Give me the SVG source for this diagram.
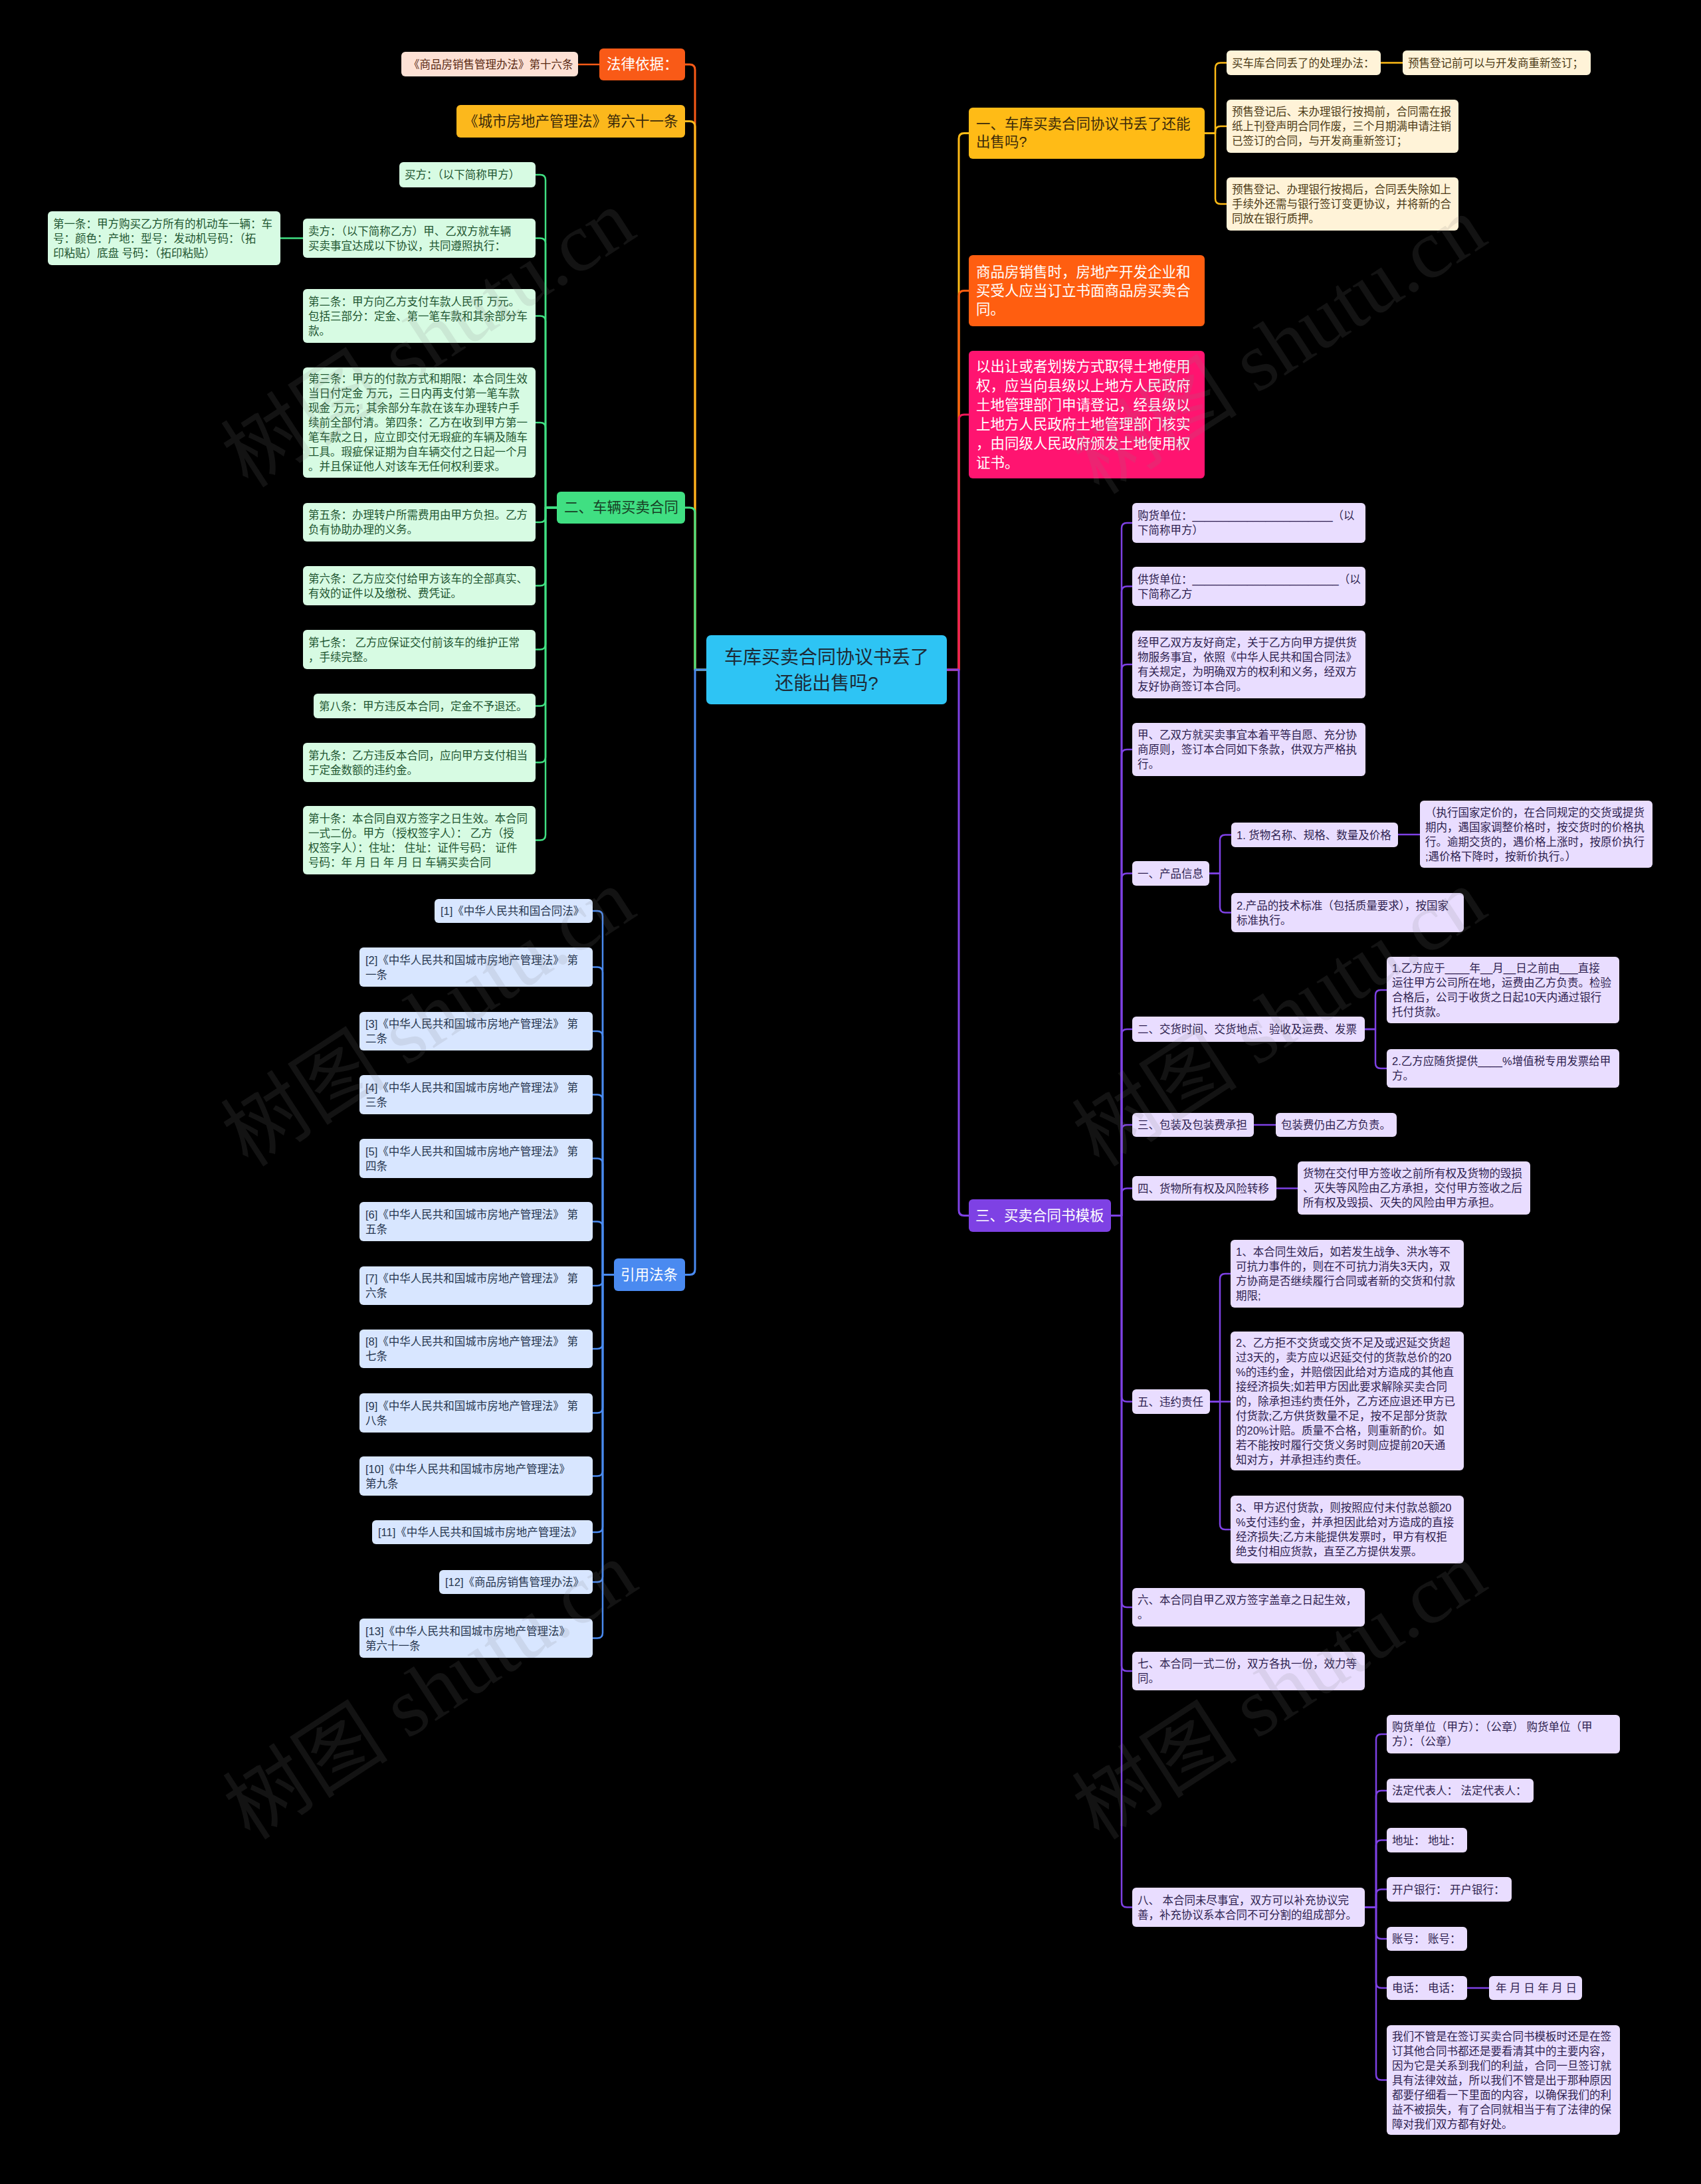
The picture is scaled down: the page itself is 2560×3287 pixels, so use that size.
<svg xmlns="http://www.w3.org/2000/svg" width="2560" height="3287" viewBox="0 0 2560 3287">
<style>
text{font-family:"Liberation Sans","Noto Sans CJK SC",sans-serif;dominant-baseline:central}
.f0{font-size:28px;fill:#1d2a36;text-anchor:middle}
.f1{font-size:21.5px}
.f2{font-size:16.5px}
.w{fill:#ffffff}
.dk{fill:#3b2a0a}
.lg{fill:#5a2a14}
.gt{fill:#1f5631}
.bt{fill:#27364f}
.ct{fill:#4b3a16}
.pt{fill:#2e1f4f}
.cn path{fill:none;stroke-linecap:round;stroke-linejoin:round}
.m{stroke-width:3}
.s{stroke-width:2.5}
.gr{fill:#D7FBE3}
.bl{fill:#D8E6FF}
.cr{fill:#FFF3D8}
.pu{fill:#E9DDFF}
.wm{font-family:"Liberation Serif","Noto Sans CJK SC",serif;font-size:125px;fill:#808080;fill-opacity:0.15;text-anchor:middle}
</style>
<rect x="0" y="0" width="2560" height="3287" fill="#000000"/>

<g id="connectors" class="cn">
<path class="m" stroke="#F95A17" d="M1063,1008 H1046 V105 Q1046,97 1038,97 H1031"/>
<path class="m" stroke="#FCB81C" d="M1063,1008 H1046 V190.5 Q1046,182.5 1038,182.5 H1031"/>
<path class="m" stroke="#40DF82" d="M1063,1008 H1046 V772 Q1046,764 1038,764 H1031"/>
<path class="m" stroke="#4A8AF0" d="M1063,1008 H1046 V1910.5 Q1046,1918.5 1038,1918.5 H1031"/>
<path class="m" stroke="#FFBB16" d="M1425,1008 H1443 V208.5 Q1443,200.5 1451,200.5 H1458"/>
<path class="m" stroke="#FF5E10" d="M1425,1008 H1443 V445.5 Q1443,437.5 1451,437.5 H1458"/>
<path class="m" stroke="#F0195A" d="M1425,1008 H1443 V632 Q1443,624 1451,624 H1458"/>
<path class="m" stroke="#7E41E4" d="M1425,1008 H1443 V1821.5 Q1443,1829.5 1451,1829.5 H1458"/>
<path class="s" stroke="#F95A17" d="M902,97 H870"/>
<g stroke="#40DF82">
<path class="s" d="M838,764 H821 V271 Q821,263 813,263 H806"/>
<path class="s" d="M838,764 H821 V366.5 Q821,358.5 813,358.5 H806"/>
<path class="s" d="M838,764 H821 V483.5 Q821,475.5 813,475.5 H806"/>
<path class="s" d="M838,764 H821 V644 Q821,636 813,636 H806"/>
<path class="s" d="M838,764 H821 V778 Q821,786 813,786 H806"/>
<path class="s" d="M838,764 H821 V873.5 Q821,881.5 813,881.5 H806"/>
<path class="s" d="M838,764 H821 V969.5 Q821,977.5 813,977.5 H806"/>
<path class="s" d="M838,764 H821 V1054.5 Q821,1062.5 813,1062.5 H806"/>
<path class="s" d="M838,764 H821 V1139.5 Q821,1147.5 813,1147.5 H806"/>
<path class="s" d="M838,764 H821 V1256.5 Q821,1264.5 813,1264.5 H806"/>
<path class="s" d="M456,358.5 H422"/>
</g>
<g stroke="#4A8AF0">
<path class="s" d="M924,1918.5 H907 V1379 Q907,1371 899,1371 H892"/>
<path class="s" d="M924,1918.5 H907 V1463.5 Q907,1455.5 899,1455.5 H892"/>
<path class="s" d="M924,1918.5 H907 V1560 Q907,1552 899,1552 H892"/>
<path class="s" d="M924,1918.5 H907 V1655.5 Q907,1647.5 899,1647.5 H892"/>
<path class="s" d="M924,1918.5 H907 V1751.5 Q907,1743.5 899,1743.5 H892"/>
<path class="s" d="M924,1918.5 H907 V1846.5 Q907,1838.5 899,1838.5 H892"/>
<path class="s" d="M924,1918.5 H907 V1927 Q907,1935 899,1935 H892"/>
<path class="s" d="M924,1918.5 H907 V2022 Q907,2030 899,2030 H892"/>
<path class="s" d="M924,1918.5 H907 V2118.5 Q907,2126.5 899,2126.5 H892"/>
<path class="s" d="M924,1918.5 H907 V2213.5 Q907,2221.5 899,2221.5 H892"/>
<path class="s" d="M924,1918.5 H907 V2298 Q907,2306 899,2306 H892"/>
<path class="s" d="M924,1918.5 H907 V2373 Q907,2381 899,2381 H892"/>
<path class="s" d="M924,1918.5 H907 V2457.5 Q907,2465.5 899,2465.5 H892"/>
</g>
<g stroke="#FFBB16">
<path class="s" d="M1813,200.5 H1829 V102.5 Q1829,94.5 1837,94.5 H1846"/>
<path class="s" d="M1813,200.5 H1829 V198 Q1829,190 1837,190 H1846"/>
<path class="s" d="M1813,200.5 H1829 V299 Q1829,307 1837,307 H1846"/>
<path class="s" d="M2078,94.5 H2111"/>
</g>
<g stroke="#7E41E4">
<path class="s" d="M1672,1829.5 H1688 V795 Q1688,787 1696,787 H1704"/>
<path class="s" d="M1672,1829.5 H1688 V890.5 Q1688,882.5 1696,882.5 H1704"/>
<path class="s" d="M1672,1829.5 H1688 V1008 Q1688,1000 1696,1000 H1704"/>
<path class="s" d="M1672,1829.5 H1688 V1136 Q1688,1128 1696,1128 H1704"/>
<path class="s" d="M1672,1829.5 H1688 V1322.5 Q1688,1314.5 1696,1314.5 H1704"/>
<path class="s" d="M1672,1829.5 H1688 V1557 Q1688,1549 1696,1549 H1704"/>
<path class="s" d="M1672,1829.5 H1688 V1701 Q1688,1693 1696,1693 H1704"/>
<path class="s" d="M1672,1829.5 H1688 V1796.5 Q1688,1788.5 1696,1788.5 H1704"/>
<path class="s" d="M1672,1829.5 H1688 V2101.5 Q1688,2109.5 1696,2109.5 H1704"/>
<path class="s" d="M1672,1829.5 H1688 V2411 Q1688,2419 1696,2419 H1704"/>
<path class="s" d="M1672,1829.5 H1688 V2507 Q1688,2515 1696,2515 H1704"/>
<path class="s" d="M1672,1829.5 H1688 V2862.5 Q1688,2870.5 1696,2870.5 H1704"/>
<path class="s" d="M1820,1314.5 H1836 V1264.5 Q1836,1256.5 1844,1256.5 H1853"/>
<path class="s" d="M1820,1314.5 H1836 V1365.5 Q1836,1373.5 1844,1373.5 H1853"/>
<path class="s" d="M2104,1256 H2137"/>
<path class="s" d="M2054,1549 H2070 V1498 Q2070,1490 2078,1490 H2087"/>
<path class="s" d="M2054,1549 H2070 V1600 Q2070,1608 2078,1608 H2087"/>
<path class="s" d="M1887,1693 H1920"/>
<path class="s" d="M1921,1788.5 H1953"/>
<path class="s" d="M1821,2109.5 H1836 V1925 Q1836,1917 1844,1917 H1852"/>
<path class="s" d="M1821,2109.5 H1852"/>
<path class="s" d="M1821,2109.5 H1836 V2294 Q1836,2302 1844,2302 H1852"/>
<path class="s" d="M2054,2870.5 H2071 V2618 Q2071,2610 2079,2610 H2087"/>
<path class="s" d="M2054,2870.5 H2071 V2703 Q2071,2695 2079,2695 H2087"/>
<path class="s" d="M2054,2870.5 H2071 V2777.5 Q2071,2769.5 2079,2769.5 H2087"/>
<path class="s" d="M2054,2870.5 H2071 V2851.5 Q2071,2843.5 2079,2843.5 H2087"/>
<path class="s" d="M2054,2870.5 H2071 V2910 Q2071,2918 2079,2918 H2087"/>
<path class="s" d="M2054,2870.5 H2071 V2984 Q2071,2992 2079,2992 H2087"/>
<path class="s" d="M2054,2870.5 H2071 V3122.5 Q2071,3130.5 2079,3130.5 H2087"/>
<path class="s" d="M2208,2992 H2241"/>
</g>
</g>

<g id="root">
<rect x="1063" y="956" width="362" height="104" rx="7" fill="#2EC4F4"/>
<text class="f0"><tspan x="1244" y="988.5">车库买卖合同协议书丢了</tspan><tspan x="1244" y="1027.5">还能出售吗?</tspan></text>
</g>

<g id="n-law">
<rect x="902" y="73" width="129" height="48" rx="6" fill="#F95A17"/>
<text class="f1 w" x="913" y="97">法律依据：</text>
</g>
<g id="n-law-1">
<rect x="604" y="78" width="266" height="37" rx="6" fill="#FDE1D5"/>
<text class="f2 lg" x="615" y="96.5">《商品房销售管理办法》第十六条</text>
</g>
<g id="n-city">
<rect x="687" y="158" width="344" height="49" rx="6" fill="#FCB81C"/>
<text class="f1 dk" x="698" y="182.5">《城市房地产管理法》第六十一条</text>
</g>

<g id="n-car">
<rect x="838" y="740" width="193" height="48" rx="6" fill="#40DF82"/>
<text class="f1" fill="#173f25" x="849" y="764">二、车辆买卖合同</text>
</g>
<g id="g0"><rect class="gr" x="601" y="244" width="205" height="38" rx="6"/>
<text class="f2 gt" x="609" y="263">买方：（以下简称甲方）</text></g>
<g id="g1"><rect class="gr" x="456" y="329" width="350" height="59" rx="6"/>
<text class="f2 gt"><tspan x="464" y="347.5">卖方：（以下简称乙方）甲、乙双方就车辆</tspan><tspan x="464" y="369.5">买卖事宜达成以下协议，共同遵照执行：</tspan></text></g>
<g id="g1a"><rect class="gr" x="72" y="318" width="350" height="81" rx="6"/>
<text class="f2 gt"><tspan x="80" y="336.5">第一条：甲方购买乙方所有的机动车一辆：车</tspan><tspan x="80" y="358.5">号：颜色：产地：型号：发动机号码：（拓</tspan><tspan x="80" y="380.5">印粘贴）底盘 号码：（拓印粘贴）</tspan></text></g>
<g id="g2"><rect class="gr" x="456" y="435" width="350" height="81" rx="6"/>
<text class="f2 gt"><tspan x="464" y="453.5">第二条：甲方向乙方支付车款人民币 万元。</tspan><tspan x="464" y="475.5">包括三部分：定金、第一笔车款和其余部分车</tspan><tspan x="464" y="497.5">款。</tspan></text></g>
<g id="g3"><rect class="gr" x="456" y="553" width="350" height="166" rx="6"/>
<text class="f2 gt"><tspan x="464" y="570">第三条：甲方的付款方式和期限：本合同生效</tspan><tspan x="464" y="592">当日付定金 万元，三日内再支付第一笔车款</tspan><tspan x="464" y="614">现金 万元；其余部分车款在该车办理转户手</tspan><tspan x="464" y="636">续前全部付清。第四条：乙方在收到甲方第一</tspan><tspan x="464" y="658">笔车款之日，应立即交付无瑕疵的车辆及随车</tspan><tspan x="464" y="680">工具。瑕疵保证期为自车辆交付之日起一个月</tspan><tspan x="464" y="702">。并且保证他人对该车无任何权利要求。</tspan></text></g>
<g id="g5"><rect class="gr" x="456" y="757" width="350" height="58" rx="6"/>
<text class="f2 gt"><tspan x="464" y="775">第五条：办理转户所需费用由甲方负担。乙方</tspan><tspan x="464" y="797">负有协助办理的义务。</tspan></text></g>
<g id="g6"><rect class="gr" x="456" y="852" width="350" height="59" rx="6"/>
<text class="f2 gt"><tspan x="464" y="870.5">第六条：乙方应交付给甲方该车的全部真实、</tspan><tspan x="464" y="892.5">有效的证件以及缴税、费凭证。</tspan></text></g>
<g id="g7"><rect class="gr" x="456" y="948" width="350" height="59" rx="6"/>
<text class="f2 gt"><tspan x="464" y="966.5">第七条： 乙方应保证交付前该车的维护正常</tspan><tspan x="464" y="988.5">，手续完整。</tspan></text></g>
<g id="g8"><rect class="gr" x="472" y="1044" width="334" height="37" rx="6"/>
<text class="f2 gt" x="480" y="1062.5">第八条：甲方违反本合同，定金不予退还。</text></g>
<g id="g9"><rect class="gr" x="456" y="1118" width="350" height="59" rx="6"/>
<text class="f2 gt"><tspan x="464" y="1136.5">第九条：乙方违反本合同，应向甲方支付相当</tspan><tspan x="464" y="1158.5">于定金数额的违约金。</tspan></text></g>
<g id="g10"><rect class="gr" x="456" y="1213" width="350" height="103" rx="6"/>
<text class="f2 gt"><tspan x="464" y="1231.5">第十条：本合同自双方签字之日生效。本合同</tspan><tspan x="464" y="1253.5">一式二份。甲方（授权签字人）： 乙方（授</tspan><tspan x="464" y="1275.5">权签字人）：住址： 住址：证件号码： 证件</tspan><tspan x="464" y="1297.5">号码：年 月 日 年 月 日 车辆买卖合同</tspan></text></g>

<g id="n-cite">
<rect x="924" y="1894" width="107" height="49" rx="6" fill="#4A8AF0"/>
<text class="f1 w" x="934" y="1918.5">引用法条</text>
</g>
<g id="b1"><rect class="bl" x="654" y="1353" width="238" height="36" rx="6"/>
<text class="f2 bt" x="663" y="1371">[1]《中华人民共和国合同法》</text></g>
<g id="b2"><rect class="bl" x="541" y="1426" width="351" height="59" rx="6"/>
<text class="f2 bt"><tspan x="550" y="1444.5">[2]《中华人民共和国城市房地产管理法》 第</tspan><tspan x="550" y="1466.5">一条</tspan></text></g>
<g id="b3"><rect class="bl" x="541" y="1523" width="351" height="58" rx="6"/>
<text class="f2 bt"><tspan x="550" y="1541">[3]《中华人民共和国城市房地产管理法》 第</tspan><tspan x="550" y="1563">二条</tspan></text></g>
<g id="b4"><rect class="bl" x="541" y="1618" width="351" height="59" rx="6"/>
<text class="f2 bt"><tspan x="550" y="1636.5">[4]《中华人民共和国城市房地产管理法》 第</tspan><tspan x="550" y="1658.5">三条</tspan></text></g>
<g id="b5"><rect class="bl" x="541" y="1714" width="351" height="59" rx="6"/>
<text class="f2 bt"><tspan x="550" y="1732.5">[5]《中华人民共和国城市房地产管理法》 第</tspan><tspan x="550" y="1754.5">四条</tspan></text></g>
<g id="b6"><rect class="bl" x="541" y="1809" width="351" height="59" rx="6"/>
<text class="f2 bt"><tspan x="550" y="1827.5">[6]《中华人民共和国城市房地产管理法》 第</tspan><tspan x="550" y="1849.5">五条</tspan></text></g>
<g id="b7"><rect class="bl" x="541" y="1906" width="351" height="58" rx="6"/>
<text class="f2 bt"><tspan x="550" y="1924">[7]《中华人民共和国城市房地产管理法》 第</tspan><tspan x="550" y="1946">六条</tspan></text></g>
<g id="b8"><rect class="bl" x="541" y="2001" width="351" height="58" rx="6"/>
<text class="f2 bt"><tspan x="550" y="2019">[8]《中华人民共和国城市房地产管理法》 第</tspan><tspan x="550" y="2041">七条</tspan></text></g>
<g id="b9"><rect class="bl" x="541" y="2097" width="351" height="59" rx="6"/>
<text class="f2 bt"><tspan x="550" y="2115.5">[9]《中华人民共和国城市房地产管理法》 第</tspan><tspan x="550" y="2137.5">八条</tspan></text></g>
<g id="b10"><rect class="bl" x="541" y="2192" width="351" height="59" rx="6"/>
<text class="f2 bt"><tspan x="550" y="2210.5">[10]《中华人民共和国城市房地产管理法》</tspan><tspan x="550" y="2232.5">第九条</tspan></text></g>
<g id="b11"><rect class="bl" x="560" y="2288" width="332" height="36" rx="6"/>
<text class="f2 bt" x="569" y="2306">[11]《中华人民共和国城市房地产管理法》</text></g>
<g id="b12"><rect class="bl" x="661" y="2363" width="231" height="36" rx="6"/>
<text class="f2 bt" x="670" y="2381">[12]《商品房销售管理办法》</text></g>
<g id="b13"><rect class="bl" x="541" y="2436" width="351" height="59" rx="6"/>
<text class="f2 bt"><tspan x="550" y="2454.5">[13]《中华人民共和国城市房地产管理法》</tspan><tspan x="550" y="2476.5">第六十一条</tspan></text></g>

<g id="n-r1">
<rect x="1458" y="162" width="355" height="77" rx="6" fill="#FFBB16"/>
<text class="f1 dk"><tspan x="1469" y="187">一、车库买卖合同协议书丢了还能</tspan><tspan x="1469" y="214">出售吗?</tspan></text>
</g>
<g id="c1"><rect class="cr" x="1846" y="76" width="232" height="37" rx="6"/>
<text class="f2 ct" x="1854" y="94.5">买车库合同丢了的处理办法：</text></g>
<g id="c1a"><rect class="cr" x="2111" y="76" width="283" height="37" rx="6"/>
<text class="f2 ct" x="2119" y="94.5">预售登记前可以与开发商重新签订；</text></g>
<g id="c2"><rect class="cr" x="1846" y="150" width="349" height="80" rx="6"/>
<text class="f2 ct"><tspan x="1854" y="168">预售登记后、未办理银行按揭前，合同需在报</tspan><tspan x="1854" y="190">纸上刊登声明合同作废，三个月期满申请注销</tspan><tspan x="1854" y="212">已签订的合同，与开发商重新签订；</tspan></text></g>
<g id="c3"><rect class="cr" x="1846" y="267" width="349" height="80" rx="6"/>
<text class="f2 ct"><tspan x="1854" y="285">预售登记、办理银行按揭后，合同丢失除如上</tspan><tspan x="1854" y="307">手续外还需与银行签订变更协议，并将新的合</tspan><tspan x="1854" y="329">同放在银行质押。</tspan></text></g>

<g id="n-r2">
<rect x="1458" y="384" width="355" height="107" rx="6" fill="#FF5E10"/>
<text class="f1 w"><tspan x="1469" y="409.5">商品房销售时，房地产开发企业和</tspan><tspan x="1469" y="437.5">买受人应当订立书面商品房买卖合</tspan><tspan x="1469" y="465.5">同。</tspan></text>
</g>
<g id="n-r3">
<rect x="1458" y="528" width="355" height="192" rx="6" fill="#FF1470"/>
<text class="f1 w"><tspan x="1469" y="551.5">以出让或者划拨方式取得土地使用</tspan><tspan x="1469" y="580.5">权，应当向县级以上地方人民政府</tspan><tspan x="1469" y="609.5">土地管理部门申请登记，经县级以</tspan><tspan x="1469" y="638.5">上地方人民政府土地管理部门核实</tspan><tspan x="1469" y="667.5">，由同级人民政府颁发土地使用权</tspan><tspan x="1469" y="696.5">证书。</tspan></text>
</g>

<g id="n-r4">
<rect x="1458" y="1805" width="214" height="49" rx="6" fill="#7E41E4"/>
<text class="f1 w" x="1468" y="1829.5">三、买卖合同书模板</text>
</g>
<g id="p1"><rect class="pu" x="1704" y="757" width="351" height="60" rx="6"/>
<text class="f2 pt"><tspan x="1712" y="776">购货单位：_______________________（以</tspan><tspan x="1712" y="798">下简称甲方）</tspan></text></g>
<g id="p2"><rect class="pu" x="1704" y="853" width="351" height="59" rx="6"/>
<text class="f2 pt"><tspan x="1712" y="871.5">供货单位：________________________（以</tspan><tspan x="1712" y="893.5">下简称乙方</tspan></text></g>
<g id="p3"><rect class="pu" x="1704" y="949" width="351" height="102" rx="6"/>
<text class="f2 pt"><tspan x="1712" y="967">经甲乙双方友好商定，关于乙方向甲方提供货</tspan><tspan x="1712" y="989">物服务事宜，依照《中华人民共和国合同法》</tspan><tspan x="1712" y="1011">有关规定，为明确双方的权利和义务，经双方</tspan><tspan x="1712" y="1033">友好协商签订本合同。</tspan></text></g>
<g id="p4"><rect class="pu" x="1704" y="1088" width="351" height="80" rx="6"/>
<text class="f2 pt"><tspan x="1712" y="1106">甲、乙双方就买卖事宜本着平等自愿、充分协</tspan><tspan x="1712" y="1128">商原则，签订本合同如下条款，供双方严格执</tspan><tspan x="1712" y="1150">行。</tspan></text></g>
<g id="p5"><rect class="pu" x="1704" y="1296" width="116" height="37" rx="6"/>
<text class="f2 pt" x="1712" y="1314.5">一、产品信息</text></g>
<g id="p5a"><rect class="pu" x="1853" y="1238" width="251" height="37" rx="6"/>
<text class="f2 pt" x="1861" y="1256.5">1. 货物名称、规格、数量及价格</text></g>
<g id="p5a1"><rect class="pu" x="2137" y="1205" width="350" height="101" rx="6"/>
<text class="f2 pt"><tspan x="2145" y="1222.5">（执行国家定价的，在合同规定的交货或提货</tspan><tspan x="2145" y="1244.5">期内，遇国家调整价格时，按交货时的价格执</tspan><tspan x="2145" y="1266.5">行。逾期交货的，遇价格上涨时，按原价执行</tspan><tspan x="2145" y="1288.5">;遇价格下降时，按新价执行。）</tspan></text></g>
<g id="p5b"><rect class="pu" x="1853" y="1344" width="350" height="59" rx="6"/>
<text class="f2 pt"><tspan x="1861" y="1362.5">2.产品的技术标准（包括质量要求），按国家</tspan><tspan x="1861" y="1384.5">标准执行。</tspan></text></g>
<g id="p6"><rect class="pu" x="1704" y="1530" width="350" height="38" rx="6"/>
<text class="f2 pt" x="1712" y="1549">二、交货时间、交货地点、验收及运费、发票</text></g>
<g id="p6a"><rect class="pu" x="2087" y="1440" width="350" height="100" rx="6"/>
<text class="f2 pt"><tspan x="2095" y="1457">1.乙方应于____年__月__日之前由___直接</tspan><tspan x="2095" y="1479">运往甲方公司所在地，运费由乙方负责。检验</tspan><tspan x="2095" y="1501">合格后，公司于收货之日起10天内通过银行</tspan><tspan x="2095" y="1523">托付货款。</tspan></text></g>
<g id="p6b"><rect class="pu" x="2087" y="1579" width="350" height="58" rx="6"/>
<text class="f2 pt"><tspan x="2095" y="1597">2.乙方应随货提供____%增值税专用发票给甲</tspan><tspan x="2095" y="1619">方。</tspan></text></g>
<g id="p7"><rect class="pu" x="1704" y="1675" width="183" height="36" rx="6"/>
<text class="f2 pt" x="1712" y="1693">三、包装及包装费承担</text></g>
<g id="p7a"><rect class="pu" x="1920" y="1675" width="182" height="36" rx="6"/>
<text class="f2 pt" x="1928" y="1693">包装费仍由乙方负责。</text></g>
<g id="p8"><rect class="pu" x="1704" y="1770" width="217" height="37" rx="6"/>
<text class="f2 pt" x="1712" y="1788.5">四、货物所有权及风险转移</text></g>
<g id="p8a"><rect class="pu" x="1953" y="1748" width="350" height="80" rx="6"/>
<text class="f2 pt"><tspan x="1961" y="1766">货物在交付甲方签收之前所有权及货物的毁损</tspan><tspan x="1961" y="1788">、灭失等风险由乙方承担，交付甲方签收之后</tspan><tspan x="1961" y="1810">所有权及毁损、灭失的风险由甲方承担。</tspan></text></g>
<g id="p9"><rect class="pu" x="1704" y="2091" width="117" height="37" rx="6"/>
<text class="f2 pt" x="1712" y="2109.5">五、违约责任</text></g>
<g id="p9a"><rect class="pu" x="1852" y="1866" width="351" height="102" rx="6"/>
<text class="f2 pt"><tspan x="1860" y="1884">1、本合同生效后，如若发生战争、洪水等不</tspan><tspan x="1860" y="1906">可抗力事件的，则在不可抗力消失3天内，双</tspan><tspan x="1860" y="1928">方协商是否继续履行合同或者新的交货和付款</tspan><tspan x="1860" y="1950">期限;</tspan></text></g>
<g id="p9b"><rect class="pu" x="1852" y="2004" width="351" height="209" rx="6"/>
<text class="f2 pt"><tspan x="1860" y="2020.5">2、乙方拒不交货或交货不足及或迟延交货超</tspan><tspan x="1860" y="2042.5">过3天的，卖方应以迟延交付的货款总价的20</tspan><tspan x="1860" y="2064.5">%的违约金，并赔偿因此给对方造成的其他直</tspan><tspan x="1860" y="2086.5">接经济损失;如若甲方因此要求解除买卖合同</tspan><tspan x="1860" y="2108.5">的，除承担违约责任外，乙方还应退还甲方已</tspan><tspan x="1860" y="2130.5">付货款;乙方供货数量不足，按不足部分货款</tspan><tspan x="1860" y="2152.5">的20%计赔。质量不合格，则重新酌价。如</tspan><tspan x="1860" y="2174.5">若不能按时履行交货义务时则应提前20天通</tspan><tspan x="1860" y="2196.5">知对方，并承担违约责任。</tspan></text></g>
<g id="p9c"><rect class="pu" x="1852" y="2251" width="351" height="102" rx="6"/>
<text class="f2 pt"><tspan x="1860" y="2269">3、甲方迟付货款，则按照应付未付款总额20</tspan><tspan x="1860" y="2291">%支付违约金，并承担因此给对方造成的直接</tspan><tspan x="1860" y="2313">经济损失;乙方未能提供发票时，甲方有权拒</tspan><tspan x="1860" y="2335">绝支付相应货款，直至乙方提供发票。</tspan></text></g>
<g id="p10"><rect class="pu" x="1704" y="2390" width="350" height="58" rx="6"/>
<text class="f2 pt"><tspan x="1712" y="2408">六、本合同自甲乙双方签字盖章之日起生效，</tspan><tspan x="1712" y="2430">。</tspan></text></g>
<g id="p11"><rect class="pu" x="1704" y="2486" width="350" height="58" rx="6"/>
<text class="f2 pt"><tspan x="1712" y="2504">七、本合同一式二份，双方各执一份，效力等</tspan><tspan x="1712" y="2526">同。</tspan></text></g>
<g id="p12"><rect class="pu" x="1704" y="2841" width="350" height="59" rx="6"/>
<text class="f2 pt"><tspan x="1712" y="2859.5">八、 本合同未尽事宜，双方可以补充协议完</tspan><tspan x="1712" y="2881.5">善，补充协议系本合同不可分割的组成部分。</tspan></text></g>
<g id="p12a"><rect class="pu" x="2087" y="2581" width="351" height="58" rx="6"/>
<text class="f2 pt"><tspan x="2095" y="2599">购货单位（甲方）：（公章） 购货单位（甲</tspan><tspan x="2095" y="2621">方）：（公章）</tspan></text></g>
<g id="p12b"><rect class="pu" x="2087" y="2677" width="221" height="36" rx="6"/>
<text class="f2 pt" x="2095" y="2695">法定代表人： 法定代表人：</text></g>
<g id="p12c"><rect class="pu" x="2087" y="2751" width="121" height="37" rx="6"/>
<text class="f2 pt" x="2095" y="2769.5">地址： 地址：</text></g>
<g id="p12d"><rect class="pu" x="2087" y="2825" width="188" height="37" rx="6"/>
<text class="f2 pt" x="2095" y="2843.5">开户银行： 开户银行：</text></g>
<g id="p12e"><rect class="pu" x="2087" y="2900" width="121" height="36" rx="6"/>
<text class="f2 pt" x="2095" y="2918">账号： 账号：</text></g>
<g id="p12f"><rect class="pu" x="2087" y="2974" width="121" height="36" rx="6"/>
<text class="f2 pt" x="2095" y="2992">电话： 电话：</text></g>
<g id="p12f1"><rect class="pu" x="2241" y="2974" width="140" height="36" rx="6"/>
<text class="f2 pt" x="2251" y="2992">年 月 日 年 月 日</text></g>
<g id="p12g"><rect class="pu" x="2087" y="3048" width="351" height="165" rx="6"/>
<text class="f2 pt"><tspan x="2095" y="3064.5">我们不管是在签订买卖合同书模板时还是在签</tspan><tspan x="2095" y="3086.5">订其他合同书都还是要看清其中的主要内容，</tspan><tspan x="2095" y="3108.5">因为它是关系到我们的利益，合同一旦签订就</tspan><tspan x="2095" y="3130.5">具有法律效益，所以我们不管是出于那种原因</tspan><tspan x="2095" y="3152.5">都要仔细看一下里面的内容，以确保我们的利</tspan><tspan x="2095" y="3174.5">益不被损失，有了合同就相当于有了法律的保</tspan><tspan x="2095" y="3196.5">障对我们双方都有好处。</tspan></text></g>

<g id="watermarks">
<text class="wm" transform="translate(645,510) rotate(-33)">树图 shutu.cn</text>
<text class="wm" transform="translate(645,1532) rotate(-33)">树图 shutu.cn</text>
<text class="wm" transform="translate(648,2545) rotate(-33)">树图 shutu.cn</text>
<text class="wm" transform="translate(1926,520) rotate(-33)">树图 shutu.cn</text>
<text class="wm" transform="translate(1926,1532) rotate(-33)">树图 shutu.cn</text>
<text class="wm" transform="translate(1926,2545) rotate(-33)">树图 shutu.cn</text>
</g>
</svg>
